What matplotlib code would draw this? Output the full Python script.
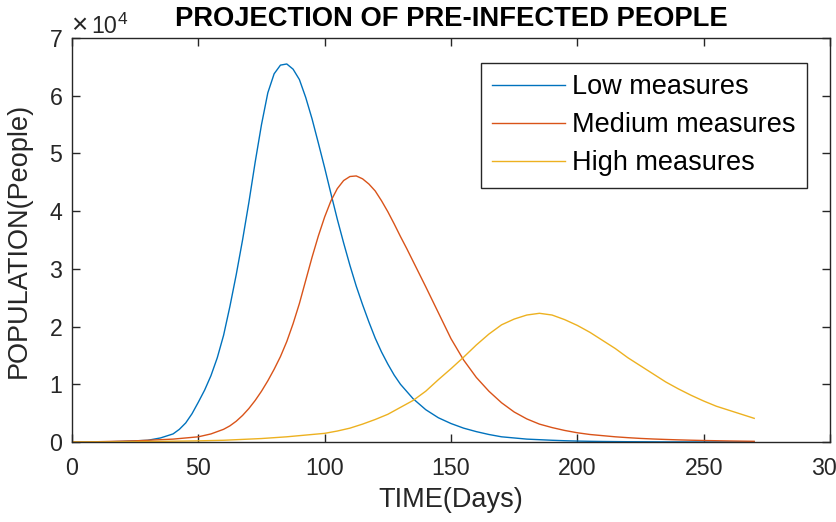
import matplotlib
matplotlib.use("Agg")
import matplotlib.pyplot as plt
import numpy as np

plt.rcParams['font.family'] = ['Liberation Sans', 'DejaVu Sans']

# ---- Data (values in units of 1e4 people) ----
days_low = [0, 5, 10, 15, 20, 25, 30, 35,
            40, 42.5, 45, 47.5, 50, 52.5, 55, 57.5, 60, 62.5, 65, 67.5,
            70, 72.5, 75, 77.5, 80, 82.5, 85, 87.5, 90, 92.5, 95, 97.5,
            100, 102.5, 105, 107.5, 110, 112.5, 115, 117.5, 120, 122.5, 125, 127.5, 130,
            135, 140, 145, 150, 155, 160, 165, 170, 175, 180, 185, 190, 195, 200,
            205, 210, 215, 220, 225, 230, 235, 240, 245, 250, 255, 260, 265, 270]
low_measures = [0.0, 0.0, 0.0, 0.005, 0.01, 0.02, 0.03, 0.07,
                0.14, 0.22, 0.33, 0.49, 0.69, 0.90, 1.15, 1.46, 1.85, 2.35, 2.90, 3.50,
                4.15, 4.85, 5.50, 6.05, 6.38, 6.53, 6.55, 6.46, 6.28, 5.97, 5.60, 5.18,
                4.75, 4.30, 3.86, 3.45, 3.06, 2.70, 2.38, 2.08, 1.80, 1.56, 1.35, 1.16, 1.00,
                0.75, 0.56, 0.42, 0.32, 0.24, 0.18, 0.13, 0.09, 0.07, 0.05, 0.04, 0.03, 0.022, 0.016,
                0.012, 0.009, 0.007, 0.005, 0.004, 0.003, 0.002, 0.002, 0.001, 0.001, 0.001, 0.0, 0.0, 0.0]

days_medium = [0, 5, 10, 15, 20, 25, 30, 35, 40, 45, 50, 55,
               60, 62.5, 65, 67.5, 70, 72.5, 75, 77.5, 80, 82.5, 85, 87.5,
               90, 92.5, 95, 97.5, 100, 102.5, 105, 107.5, 110, 112.5, 115, 117.5,
               120, 122.5, 125, 127.5, 130, 132.5, 135, 137.5, 140,
               145, 150, 155, 160, 165, 170, 175, 180, 185, 190, 195, 200,
               205, 210, 215, 220, 225, 230, 235, 240, 245, 250, 255, 260, 265, 270]
medium_measures = [0.0, 0.0, 0.005, 0.01, 0.015, 0.02, 0.03, 0.04, 0.05, 0.07, 0.09, 0.14,
                   0.22, 0.28, 0.36, 0.46, 0.58, 0.72, 0.88, 1.06, 1.26, 1.48, 1.74, 2.05,
                   2.40, 2.80, 3.20, 3.57, 3.90, 4.18, 4.39, 4.53, 4.60, 4.61, 4.56, 4.47,
                   4.35, 4.18, 3.99, 3.78, 3.56, 3.35, 3.13, 2.91, 2.69,
                   2.24, 1.79, 1.42, 1.12, 0.88, 0.68, 0.52, 0.40, 0.31, 0.25, 0.20, 0.16,
                   0.13, 0.11, 0.09, 0.075, 0.062, 0.052, 0.044, 0.037, 0.031, 0.026, 0.022, 0.018, 0.015, 0.012]

days_high = [0, 5, 10, 15, 20, 25, 30, 35, 40, 45, 50, 55, 60, 65, 70, 75, 80, 85, 90, 95,
             100, 105, 110, 115, 120, 125, 130, 135, 140, 145, 150, 155, 160, 165, 170, 175,
             180, 185, 190, 195, 200, 205, 210, 215, 220, 225, 230, 235, 240, 245, 250, 255,
             260, 265, 270]
high_measures = [0.0, 0.001, 0.002, 0.003, 0.005, 0.007, 0.009, 0.011, 0.014, 0.017,
                 0.02, 0.025, 0.03, 0.04, 0.05, 0.06, 0.075, 0.09, 0.11, 0.13,
                 0.15, 0.19, 0.24, 0.31, 0.39, 0.48, 0.60, 0.72, 0.88, 1.08,
                 1.27, 1.47, 1.68, 1.87, 2.03, 2.13, 2.20, 2.23, 2.20, 2.12,
                 2.02, 1.90, 1.76, 1.62, 1.46, 1.32, 1.18, 1.04, 0.92, 0.81,
                 0.71, 0.62, 0.55, 0.48, 0.41]

series_labels = ['Low measures', 'Medium measures', 'High measures']
colors = ['#0072BD', '#D95319', '#EDB120']

x_ticks = [0, 50, 100, 150, 200, 250, 300]
y_ticks = [0, 1, 2, 3, 4, 5, 6, 7]

# ---- Figure ----
W, H = 837, 522
fig = plt.figure(figsize=(W / 100, H / 100), dpi=100)
ax = fig.add_axes([72 / W, 80 / H, 758 / W, 404 / H])

for dd, vals, lab, col in zip([days_low, days_medium, days_high],
                              [low_measures, medium_measures, high_measures],
                              series_labels, colors):
    ax.plot(np.array(dd), np.array(vals) * 1e4, color=col, lw=1.0, label=lab)

ax.set_xlim(0, 300)
ax.set_ylim(0, 7e4)
ax.set_xticks(x_ticks)
ax.set_xticklabels([str(t) for t in x_ticks])
ax.set_yticks([t * 1e4 for t in y_ticks])
ax.set_yticklabels([str(t) for t in y_ticks])

axcol = '#262626'
for s in ax.spines.values():
    s.set_color(axcol)
    s.set_linewidth(1.0)
ax.tick_params(direction='in', length=6, width=1.0, color=axcol, labelcolor=axcol,
               top=True, right=True, labelsize=16.7)
ax.tick_params(axis='x', pad=11)
ax.tick_params(axis='y', pad=7)

ax.set_xlabel('TIME(Days)', fontsize=19.5, color=axcol, labelpad=5)
ax.set_ylabel('POPULATION(People)', fontsize=19.5, color=axcol, labelpad=13)
ax.set_title('PROJECTION OF PRE-INFECTED PEOPLE', fontsize=19.7, fontweight='bold', pad=9)

# exponent label
fig.text(71 / W, 1 - 33 / H, '\u00d7', fontsize=20, color=axcol,
         ha='left', va='baseline')
fig.text(91 / W, 1 - 33 / H, '10', fontsize=16.7, color=axcol,
         ha='left', va='baseline')
fig.text(118 / W, 1 - 24 / H, '4', fontsize=12.5, color=axcol,
         ha='left', va='baseline')

leg = ax.legend(loc='upper right', bbox_to_anchor=(807 / W, 1 - 63 / H),
                bbox_transform=fig.transFigure, borderaxespad=0, fontsize=19.5,
                frameon=True, fancybox=False, shadow=False, framealpha=1,
                handlelength=2.7, handletextpad=0.26, labelspacing=0.45,
                borderpad=0.41)
leg.get_frame().set_edgecolor(axcol)
leg.get_frame().set_linewidth(1.0)
for t in leg.get_texts():
    t.set_color('black')

fig.savefig('out.png', dpi=100)
